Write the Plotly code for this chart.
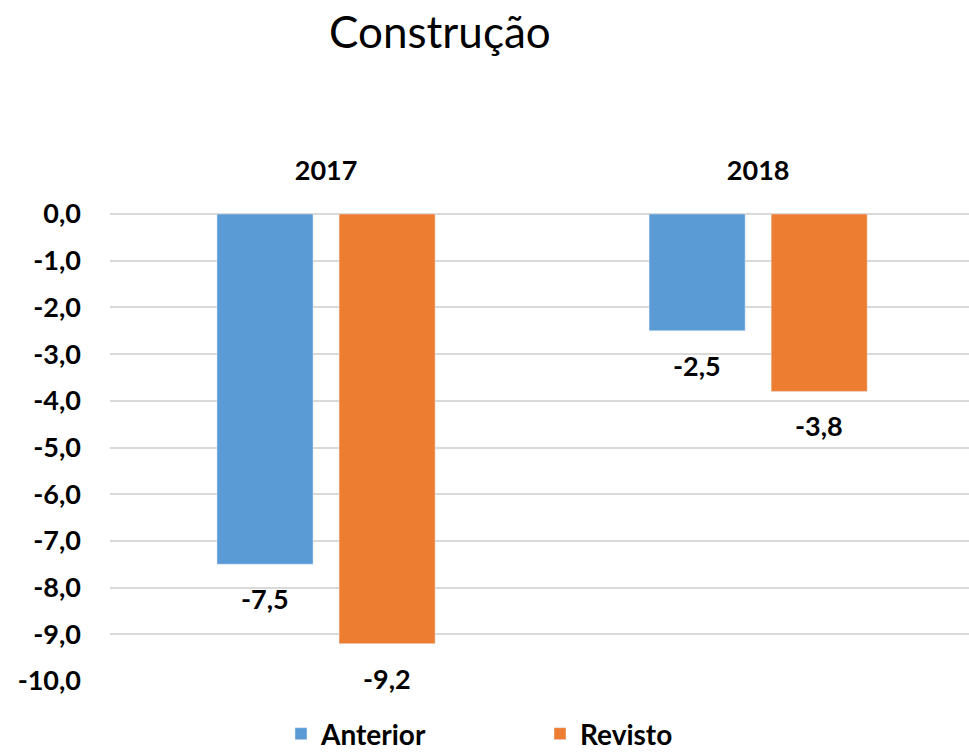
import plotly.graph_objects as go

categories = ["2017", "2018"]
anterior = [-7.5, -2.5]
revisto = [-9.2, -3.8]
y_ticks = [0, -1, -2, -3, -4, -5, -6, -7, -8, -9, -10]
y_tick_labels = ["0,0", "-1,0", "-2,0", "-3,0", "-4,0", "-5,0", "-6,0", "-7,0", "-8,0", "-9,0", "-10,0"]

BLUE = "#5B9BD5"
ORANGE = "#ED7D31"
FONT = "Lato"
BARGAP = 0.435

fig = go.Figure()
fig.add_trace(go.Bar(name="Anterior", x=categories, y=anterior, marker_color=BLUE))
fig.add_trace(go.Bar(name="Revisto", x=categories, y=revisto, marker_color=ORANGE))

off = (1 - BARGAP) / 4
annotations = []
for series, sign in ((anterior, -1), (revisto, 1)):
    for i, v in enumerate(series):
        annotations.append(dict(
            x=i + sign * off, y=v, xref="x", yref="y",
            text=f"{v:.1f}".replace(".", ","), showarrow=False,
            yanchor="top", yshift=-16,
            font=dict(family=FONT, size=27, color="#000000", weight="bold"),
        ))

fig.update_layout(
    width=969, height=753,
    margin=dict(l=110, r=0, t=214, b=72),
    paper_bgcolor="white", plot_bgcolor="white",
    separators=",.",
    barmode="group", bargap=BARGAP, bargroupgap=0.213,
    title=dict(text="Construção", xref="container", x=0.454, xanchor="center",
               y=0.957, yanchor="middle",
               font=dict(family=FONT, size=44, color="#000000")),
    font=dict(family=FONT, color="#000000"),
    xaxis=dict(side="top", type="category", range=[-0.5, 1.488],
               showgrid=False, showline=False, zeroline=False, ticks="",
               ticklabelstandoff=28,
               tickfont=dict(family=FONT, size=27, weight="bold")),
    yaxis=dict(range=[-10, 0], tickvals=y_ticks, ticktext=y_tick_labels,
               showgrid=True, gridcolor="#d9d9d9", gridwidth=1.5,
               zeroline=True, zerolinecolor="#d9d9d9", zerolinewidth=1.5,
               showline=False, ticks="", ticklabelstandoff=28,
               tickfont=dict(family=FONT, size=27, weight="bold")),
    legend=dict(orientation="h", xref="container", yref="container",
                x=0.29, xanchor="left", y=19 / 753, yanchor="middle",
                entrywidth=214,
                font=dict(family=FONT, size=28, weight="bold")),
    annotations=annotations,
)

fig.update_traces(cliponaxis=False)
fig.write_html("out.html", config={"displayModeBar": False},
               post_script="document.body.style.margin='0px';")
